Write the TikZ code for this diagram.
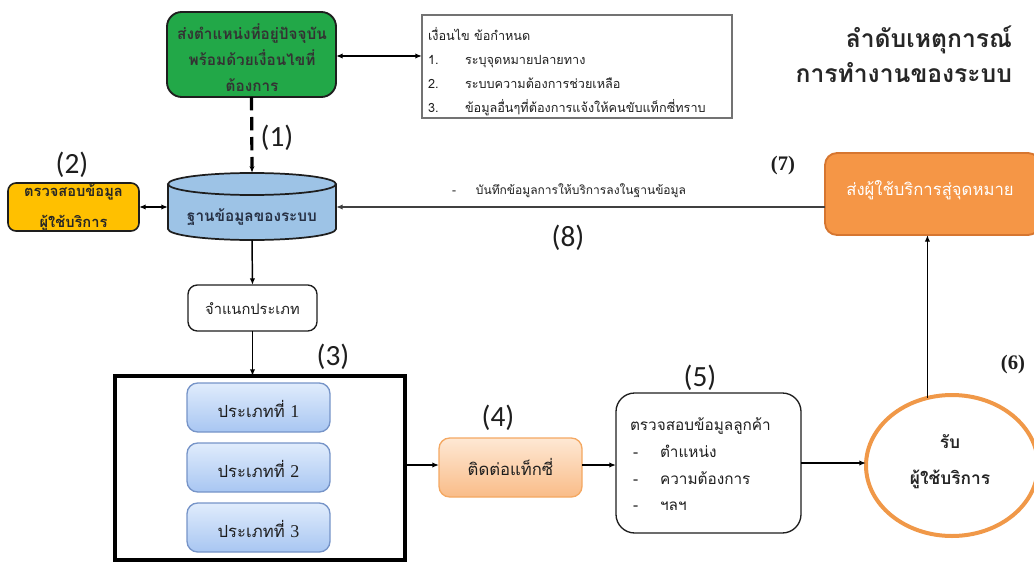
\documentclass[tikz,border=0pt]{standalone}
\usepackage{fontspec}
\setmainfont{Carlito}
\newfontfamily\thai[Script=Thai]{Loma}
\newfontfamily\tnr{Liberation Serif}
\usetikzlibrary{arrows.meta,fit,shapes.geometric,calc}

\definecolor{gfill}{RGB}{34,168,72}
\definecolor{yfill}{RGB}{255,192,0}
\definecolor{dbfill}{RGB}{157,195,230}
\definecolor{dbtext}{RGB}{38,48,68}
\definecolor{ofill}{RGB}{245,150,70}
\definecolor{oline}{RGB}{214,118,48}
\definecolor{btop}{RGB}{224,236,252}
\definecolor{bbot}{RGB}{168,198,242}
\definecolor{bline}{RGB}{118,148,200}
\definecolor{ptop}{RGB}{254,232,212}
\definecolor{pbot}{RGB}{249,188,136}
\definecolor{pline}{RGB}{244,168,98}
\definecolor{ring}{RGB}{240,152,72}
\definecolor{ink}{RGB}{30,30,30}

\begin{document}
\begin{tikzpicture}[x=0.75pt,y=-0.75pt,
  every node/.style={inner sep=0pt, outer sep=0pt, text=ink},
  conn/.style={line width=1.1pt, draw=black, -{Latex[length=5pt,width=4pt]}},
  twoway/.style={line width=1.1pt, draw=black, {Latex[length=5pt,width=4pt]}-{Latex[length=5pt,width=4pt]}},
  tag/.style={font=\fontsize{22}{22}\selectfont},
  serif tag/.style={font=\tnr\bfseries\fontsize{15.5}{15.5}\selectfont},
  greenbox/.style={draw=ink, line width=1.4pt, fill=gfill, rounded corners=11pt},
  yellowbox/.style={draw=ink, line width=1.2pt, fill=yfill, rounded corners=6pt},
  plainbox/.style={draw=ink, line width=1pt, fill=white, rounded corners=7pt},
  typebox/.style={draw=bline, line width=1pt, top color=btop, bottom color=bbot,
    rounded corners=8pt},
  taxibox/.style={draw=pline, line width=1pt, top color=ptop, bottom color=pbot,
    rounded corners=8pt},
  condtext/.style={anchor=base west, font=\thai\fontsize{9.5}{12}\selectfont},
  infotext/.style={anchor=base west, font=\thai\fontsize{11.5}{14}\selectfont},
]
\useasboundingbox (0,0) rectangle (1034,563);

% ---------- title ----------
\node[anchor=base east, font=\thai\bfseries\fontsize{18.5}{26}\selectfont, text=black!85]
  (title1) at (1012,48) {ลำดับเหตุการณ์};
\node[anchor=base east, font=\thai\bfseries\fontsize{18.5}{26}\selectfont, text=black!85]
  (title2) at (1012,83) {การทำงานของระบบ};

% ---------- request from the user ----------
\node[greenbox, fit={(167,12) (336,97)}] (req) {};
\node[align=center, font=\thai\bfseries\fontsize{11.5}{19.5}\selectfont, text=black!80]
  (reqtext) at (252,58) {ส่งตำแหน่งที่อยู่ปัจจุบัน\\พร้อมด้วยเงื่อนไขที่\\ต้องการ};

% ---------- conditions ----------
\node[draw=black!55, line width=0.9pt, fit={(422,15) (732,118)}] (cond) {};
\node[condtext] (c0) at (428,41) {เงื่อนไข ข้อกำหนด};
\node[condtext] (c1n) at (428,65) {1.};
\node[condtext] (c1) at (465,65) {ระบุจุดหมายปลายทาง};
\node[condtext] (c2n) at (428,89) {2.};
\node[condtext] (c2) at (465,89) {ระบบความต้องการช่วยเหลือ};
\node[condtext] (c3n) at (428,113) {3.};
\node[condtext] (c3) at (465,113) {ข้อมูลอื่นๆที่ต้องการแจ้งให้คนขับแท็กซี่ทราบ};

\draw[twoway] (req.east |- 0,56) -- (cond.west |- 0,56);

% ---------- system database (cylinder) ----------
\node[minimum width=126pt, minimum height=50.25pt] (db) at (252,206.5) {};
\fill[dbfill] (168,184) -- (168,229) arc[start angle=180, end angle=0, x radius=84, y radius=11]
  -- (336,184) arc[start angle=0, end angle=-180, x radius=84, y radius=11] -- cycle;
\draw[ink, line width=1.3pt] (168,184) -- (168,229) arc[start angle=180, end angle=0, x radius=84, y radius=11]
  -- (336,184);
\draw[ink, line width=1.3pt] (252,184) ellipse[x radius=84, y radius=11];
\node[font=\thai\bfseries\fontsize{11.5}{15}\selectfont, text=dbtext] (dbtext) at (252,217) {ฐานข้อมูลของระบบ};

\draw[line width=2.4pt, dash pattern=on 10pt off 5pt] (req.south) -- (252,166);
\draw[line width=1.1pt, -{Latex[length=5pt,width=4pt]}] (252,166) -- (db.north);
\node[tag] (t1) at (277,138) {(1)};

% ---------- user check ----------
\node[yellowbox, fit={(8,183) (139,231)}] (chk) {};
\node[align=center, font=\thai\bfseries\fontsize{11}{23}\selectfont, text=black!85]
  (chktext) at (73.5,208) {ตรวจสอบข้อมูล\\ผู้ใช้บริการ};
\node[tag] (t2) at (72,165) {(2)};
\draw[twoway] (chk.east |- 0,207) -- (db.west |- 0,207);

% ---------- classification ----------
\node[plainbox, fit={(188,285) (317,331)}] (cls) {};
\node[font=\thai\fontsize{11}{14}\selectfont] (clstext) at (252.5,309) {จำแนกประเภท};
\draw[conn] (252,240) -- (cls.north);

% ---------- type group ----------
\node[draw=black, line width=2.3pt, fit={(115,376) (405,560)}] (grp) {};
\node[tag] (t3) at (333,357) {(3)};
\draw[conn] (cls.south) -- (grp.north -| cls.south);

\node[typebox, fit={(187,383) (330,432)}] (ty1) {};
\node (ty1t) at (258.5,409) {\thai\fontsize{12.5}{15}\selectfont ประเภทที่ \tnr\fontsize{13.5}{15}\selectfont 1};
\node[typebox, fit={(187,443) (330,492)}] (ty2) {};
\node (ty2t) at (258.5,469) {\thai\fontsize{12.5}{15}\selectfont ประเภทที่ \tnr\fontsize{13.5}{15}\selectfont 2};
\node[typebox, fit={(187,503) (330,552)}] (ty3) {};
\node (ty3t) at (258.5,529) {\thai\fontsize{12.5}{15}\selectfont ประเภทที่ \tnr\fontsize{13.5}{15}\selectfont 3};

% ---------- contact taxi ----------
\node[taxibox, fit={(439,438) (582,497)}] (taxi) {};
\node[font=\thai\fontsize{12.5}{15}\selectfont] (taxit) at (510.5,467) {ติดต่อแท็กซี่};
\node[tag] (t4) at (498,418) {(4)};
\draw[conn] (grp.east |- 0,465) -- (taxi.west |- 0,465);

% ---------- customer check ----------
\node[plainbox, rounded corners=14pt, fit={(616,393) (801,533)}] (cust) {};
\node[infotext] (k0) at (630,430) {ตรวจสอบข้อมูลลูกค้า};
\node[infotext] (k1d) at (633,457) {-};
\node[infotext] (k1) at (660,457) {ตำแหน่ง};
\node[infotext] (k2d) at (633,484) {-};
\node[infotext] (k2) at (660,484) {ความต้องการ};
\node[infotext] (k3d) at (633,510) {-};
\node[infotext] (k3) at (660,510) {ฯลฯ};
\node[tag] (t5) at (700,378) {(5)};
\draw[conn] (taxi.east |- 0,465) -- (cust.west |- 0,465);

% ---------- pick up the user ----------
\node[ellipse, draw=ring, line width=3pt, fill=white,
      minimum width=129pt, minimum height=105.75pt] (rcv) at (952,465.5) {};
\node[align=center, font=\thai\bfseries\fontsize{13}{27}\selectfont, text=black!85]
  (rcvtext) at (950,462) {รับ\\ผู้ใช้บริการ};
\node[serif tag] (t6) at (1013,365) {(6)};
\draw[conn] (cust.east |- 0,463) -- (rcv.west |- 0,463);

% ---------- deliver to destination ----------
\node[draw=oline, line width=1.4pt, fill=ofill, rounded corners=9pt,
      fit={(825,153) (1040,235)}] (dest) {};
\node[font=\thai\fontsize{12.5}{15}\selectfont, text=white] (destt) at (930,190) {ส่งผู้ใช้บริการสู่จุดหมาย};
\node[serif tag] (t7) at (783,166) {(7)};
\draw[conn] (rcv.110) -- (rcv.110 |- dest.south);

% ---------- record back to the database ----------
\draw[line width=1pt, draw=black!75, -{Latex[length=5pt,width=4pt]}]
  (dest.west |- 0,207) -- (db.east |- 0,207);
\node[anchor=base west, font=\thai\fontsize{9}{12}\selectfont] (rec) at (452,194)
  {-\hspace{15pt}บันทึกข้อมูลการให้บริการลงในฐานข้อมูล};
\node[tag] (t8) at (568,238) {(8)};

\end{tikzpicture}
\end{document}
